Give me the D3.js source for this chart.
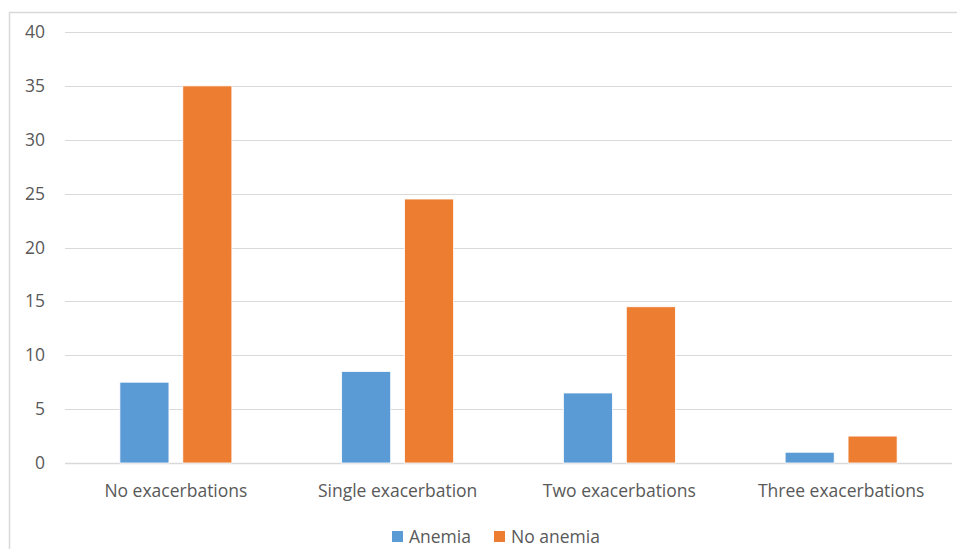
<!DOCTYPE html>
<html><head><meta charset="utf-8">
<script src="https://cdn.jsdelivr.net/npm/d3@7"></script>
<style>body{margin:0;background:#fff;} svg{display:block;}</style>
</head><body>
<script>
const categories = ["No exacerbations","Single exacerbation","Two exacerbations","Three exacerbations"];
const seriesNames = ["Anemia","No anemia"];
const anemia = [7.5, 8.5, 6.5, 1];
const noAnemia = [35, 24.5, 14.5, 2.5];
const yTicks = [0,5,10,15,20,25,30,35,40];
const colors = ["#5B9BD5","#ED7D31"];

(function(){
const W = 957, H = 549;
const svg = d3.select("body").append("svg").attr("width", W).attr("height", H);
const font = "'Open Sans', 'Segoe UI', sans-serif";
const fs = 17.5;

// frame
svg.append("rect").attr("x", 9.5).attr("y", 12.5).attr("width", 960).attr("height", 560)
  .attr("fill", "none").attr("stroke", "#d9d9d9").attr("stroke-width", 1.5);

const pL = 65, pR = 952, pT = 32, pB = 463;
const x = d3.scaleBand().domain(categories).range([pL, pR]);
const y = d3.scaleLinear().domain([0, 40]).range([pB, pT]);
const xs = d3.scaleBand().domain(seriesNames).range([0, 112]).paddingInner(0.22);

// gridlines
svg.append("g").selectAll("line").data(yTicks).join("line")
  .attr("x1", pL).attr("x2", pR)
  .attr("y1", d => Math.round(y(d)) + 0.5).attr("y2", d => Math.round(y(d)) + 0.5)
  .attr("stroke", "#d9d9d9").attr("stroke-width", d => d === 0 ? 1.5 : 1);

// y tick labels
const yAxis = d3.axisLeft(y).tickValues(yTicks).tickSize(0).tickPadding(0);
const gy = svg.append("g").attr("transform", `translate(45,0)`).call(yAxis);
gy.select(".domain").remove();
gy.selectAll("text").attr("font-family", font).attr("font-size", fs).attr("fill", "#595959");

// bars
const data = categories.map((c, i) => ({c, vals: [anemia[i], noAnemia[i]]}));
const groups = svg.append("g").selectAll("g").data(data).join("g")
  .attr("transform", d => `translate(${x(d.c) + x.bandwidth()/2 - 56},0)`);
groups.selectAll("rect").data(d => d.vals.map((v, j) => ({v, s: seriesNames[j], j})))
  .join("rect")
  .attr("x", d => xs(d.s)).attr("width", xs.bandwidth())
  .attr("y", d => y(d.v)).attr("height", d => pB - y(d.v))
  .attr("fill", d => colors[d.j]).attr("stroke", "#fff").attr("stroke-width", 0.8);

// x labels
const xAxis = d3.axisBottom(x).tickSize(0).tickPadding(0);
const gx = svg.append("g").attr("transform", `translate(0,${pB + 34})`).call(xAxis);
gx.select(".domain").remove();
gx.selectAll("text").attr("dy", 0).attr("font-family", font).attr("font-size", fs).attr("fill", "#595959");

// legend
const legendX = [392, 494];
const lg = svg.append("g").selectAll("g").data(seriesNames).join("g")
  .attr("transform", (d, i) => `translate(${legendX[i]},531)`);
lg.append("rect").attr("width", 11).attr("height", 11).attr("fill", (d, i) => colors[i]);
lg.append("text").attr("x", 17).attr("y", 12).text(d => d)
  .attr("font-family", font).attr("font-size", fs).attr("fill", "#595959");
})();
</script>
</body></html>
